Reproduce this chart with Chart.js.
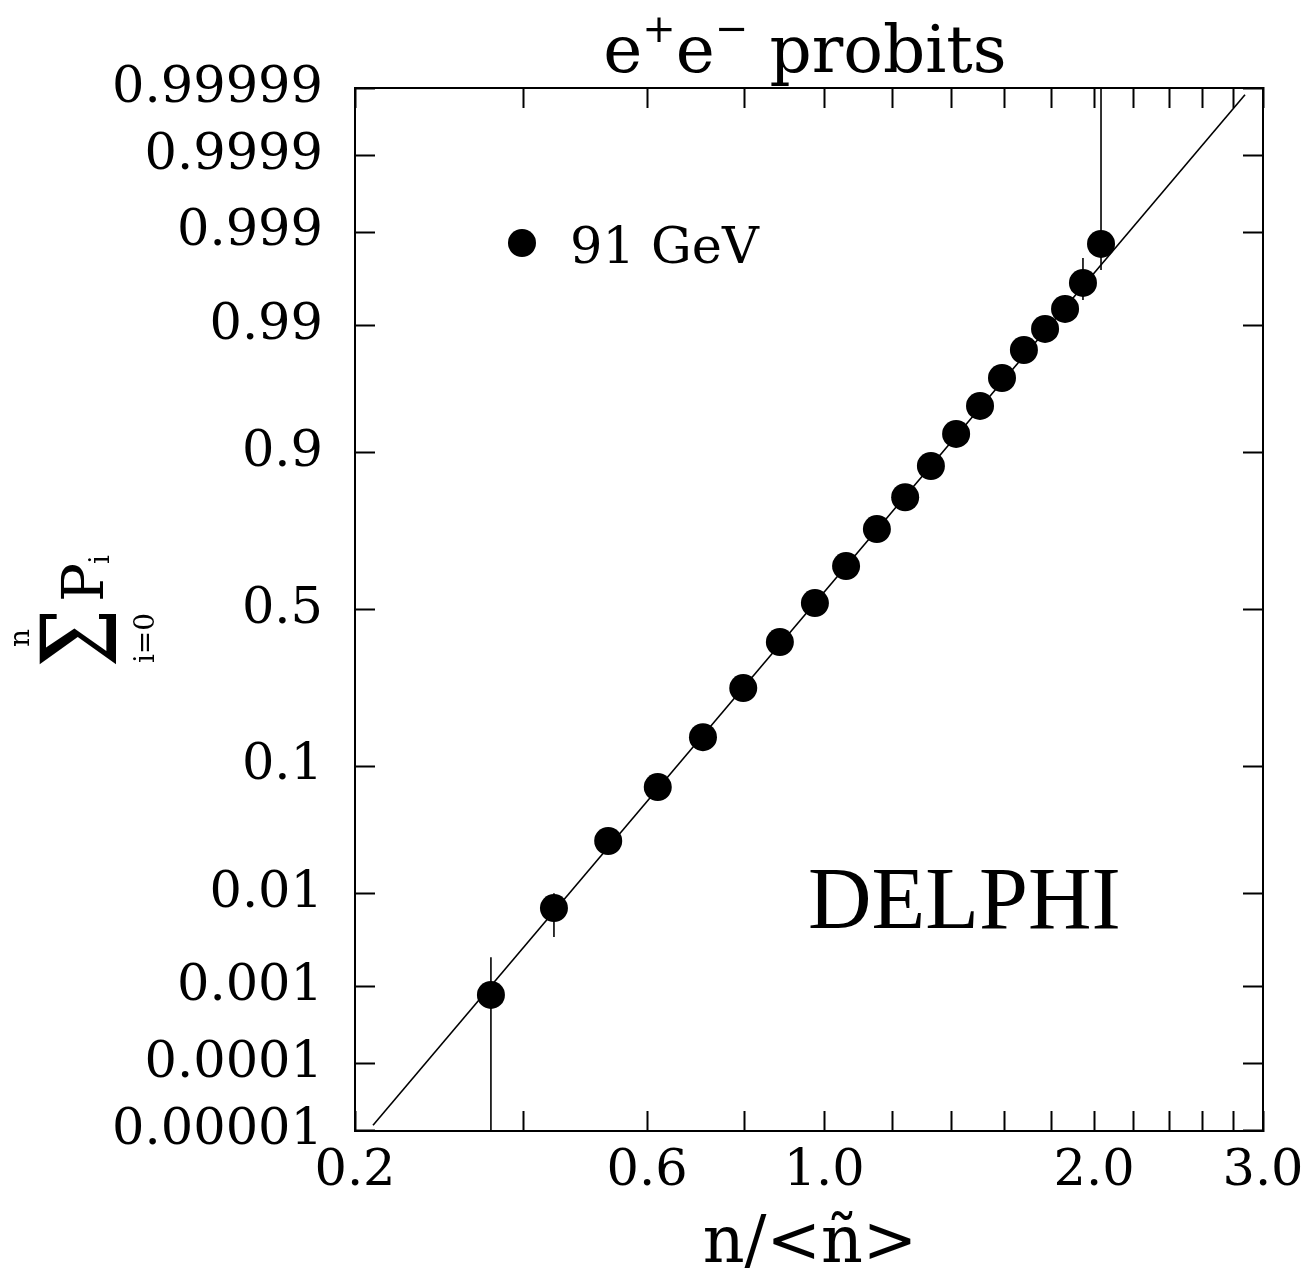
<!DOCTYPE html>
<html>
<head>
<meta charset="utf-8">
<script src="https://cdn.jsdelivr.net/npm/chart.js@4.4.0/dist/chart.umd.min.js"></script>
<style>
    html, body { margin: 0; padding: 0; background: #fff; }
</style>
</head>
<body>
<canvas id="probits" width="1312" height="1276"></canvas>
<script>
(function () {
    'use strict';

    /* ── Data ── */
    var ratio = [0.355, 0.444, 0.531, 0.620, 0.710, 0.798, 0.885, 0.975, 1.061, 1.152,
                 1.241, 1.327, 1.416, 1.505, 1.591, 1.681, 1.772, 1.862, 1.946, 2.034];
    var cumProb = [0.00080, 0.00725, 0.0290, 0.0730, 0.148, 0.260, 0.395, 0.521, 0.639, 0.745,
                   0.821, 0.880, 0.9247, 0.9522, 0.9710, 0.9832, 0.9892, 0.99307, 0.99625, 0.99862];
    var errLow  = [1e-7, 0.00366, null, null, null, null, null, null, null, null,
                   null, null, null, null, null, null, null, 0.9907, 0.99437, 0.99728];
    var errHigh = [0.00221, 0.0101, null, null, null, null, null, null, null, null,
                   null, null, null, null, null, null, null, 0.9950, 0.99800, 0.9999999];

    var fitX = [0.218, 2.875];
    var fitProb = [0.0000121, 0.9999875];

    var xTickValues = [0.2, 0.4, 0.6, 0.8, 1.0, 1.2, 1.4, 1.6, 1.8, 2.0, 2.2, 2.4, 2.6, 2.8, 3.0];
    var xTickLabels = ['0.2', '', '0.6', '', '1.0', '', '', '', '', '2.0', '', '', '', '', '3.0'];
    var yTickValues = [0.00001, 0.0001, 0.001, 0.01, 0.1, 0.5, 0.9, 0.99, 0.999, 0.9999, 0.99999];
    var yTickLabels = ['0.00001', '0.0001', '0.001', '0.01', '0.1', '0.5', '0.9', '0.99', '0.999', '0.9999', '0.99999'];

    /* ── Axis transforms: shifted log in x, probit in y ── */
    var SHIFT = 0.25;
    function xT(v) { return Math.log(v + SHIFT); }

    function norminv(p) {
        var a = [-3.969683028665376e+01, 2.209460984245205e+02, -2.759285104469687e+02,
                 1.383577518672690e+02, -3.066479806614716e+01, 2.506628277459239e+00];
        var b = [-5.447609879822406e+01, 1.615858368580409e+02, -1.556989798598866e+02,
                 6.680131188771972e+01, -1.328068155288572e+01];
        var c = [-7.784894002430293e-03, -3.223964580411365e-01, -2.400758277161838e+00,
                 -2.549732539343734e+00, 4.374664141464968e+00, 2.938163982698783e+00];
        var d = [7.784695709041462e-03, 3.224671290700398e-01, 2.445134137142996e+00,
                 3.754408661907416e+00];
        var pl = 0.02425, q, r;
        if (p < pl) {
            q = Math.sqrt(-2 * Math.log(p));
            return (((((c[0] * q + c[1]) * q + c[2]) * q + c[3]) * q + c[4]) * q + c[5]) /
                   ((((d[0] * q + d[1]) * q + d[2]) * q + d[3]) * q + 1);
        }
        if (p > 1 - pl) {
            q = Math.sqrt(-2 * Math.log(1 - p));
            return -(((((c[0] * q + c[1]) * q + c[2]) * q + c[3]) * q + c[4]) * q + c[5]) /
                    ((((d[0] * q + d[1]) * q + d[2]) * q + d[3]) * q + 1);
        }
        q = p - 0.5; r = q * q;
        return (((((a[0] * r + a[1]) * r + a[2]) * r + a[3]) * r + a[4]) * r + a[5]) * q /
               (((((b[0] * r + b[1]) * r + b[2]) * r + b[3]) * r + b[4]) * r + 1);
    }

    var X_MIN = xT(0.2), X_MAX = xT(3.0);
    var Y_MIN = -4.27, Y_MAX = 4.27;
    var serif = "'DejaVu Serif', serif";

    var points = ratio.map(function (v, i) { return { x: xT(v), y: norminv(cumProb[i]) }; });
    var fitLine = fitX.map(function (v, i) { return { x: xT(v), y: norminv(fitProb[i]) }; });

    function setXTicks(scale) {
        scale.ticks = xTickValues.map(function (v) { return { value: xT(v) }; });
    }
    function setYTicks(scale) {
        scale.ticks = yTickValues.map(function (v) { return { value: norminv(v) }; });
    }
    function noOverflow(scale) {
        scale.paddingLeft = 0; scale.paddingRight = 0;
        scale.paddingTop = 0; scale.paddingBottom = 0;
    }

    var frameGrid = { drawOnChartArea: false, tickLength: -20, tickWidth: 2, tickColor: '#000' };
    var frameBorder = { color: '#000', width: 2 };

    /* ── Error bars, labels and annotations ── */
    var annotations = {
        id: 'annotations',
        beforeDatasetsDraw: function (chart) {
            var ctx = chart.ctx, xs = chart.scales.x, ys = chart.scales.y, area = chart.chartArea;
            ctx.save();
            ctx.beginPath();
            ctx.rect(area.left, area.top, area.right - area.left, area.bottom - area.top);
            ctx.clip();
            ctx.strokeStyle = '#000';
            ctx.lineWidth = 1.6;
            ratio.forEach(function (v, i) {
                if (errLow[i] === null) { return; }
                var px = xs.getPixelForValue(xT(v));
                ctx.beginPath();
                ctx.moveTo(px, ys.getPixelForValue(norminv(errLow[i])));
                ctx.lineTo(px, ys.getPixelForValue(norminv(errHigh[i])));
                ctx.stroke();
            });
            ctx.restore();
        },
        afterDraw: function (chart) {
            var ctx = chart.ctx, area = chart.chartArea;
            ctx.save();
            ctx.fillStyle = '#000';
            ctx.textBaseline = 'alphabetic';

            /* title: e+e- probits */
            var big = '66px ' + serif, sup = '40px ' + serif;
            var parts = [['e', big, 0], ['+', sup, -30], ['e', big, 0], ['\u2212', sup, -30], [' probits', big, 0]];
            var total = 0;
            parts.forEach(function (p) { ctx.font = p[1]; total += ctx.measureText(p[0]).width; });
            var tx = 805 - total / 2;
            parts.forEach(function (p) {
                ctx.font = p[1];
                ctx.fillText(p[0], tx, 72 + p[2]);
                tx += ctx.measureText(p[0]).width;
            });

            /* legend */
            ctx.beginPath();
            ctx.arc(area.left + 167, area.top + 155, 14, 0, Math.PI * 2);
            ctx.fill();
            ctx.font = '51px ' + serif;
            ctx.textAlign = 'left';
            ctx.fillText('91 GeV', area.left + 215, area.top + 175);

            /* experiment tag */
            ctx.font = "88px 'Liberation Serif', serif";
            ctx.fillText('DELPHI', 808, 928);

            /* x axis title */
            ctx.font = '65px ' + serif;
            ctx.textAlign = 'center';
            ctx.fillText('n/<\u00f1>', 810, 1262);

            /* y axis title: sum_{i=0}^{n} P_i, rotated */
            ctx.translate(86, 638);
            ctx.rotate(-Math.PI / 2);
            ctx.textBaseline = 'middle';
            ctx.save();
            ctx.scale(1, 1.25);
            ctx.font = '84px ' + serif;
            ctx.fillText('\u03a3', 0, 2);
            ctx.restore();
            ctx.font = '28px ' + serif;
            ctx.fillText('n', 0, -64);
            ctx.fillText('i=0', 0, 61);
            ctx.font = '58px ' + serif;
            ctx.textAlign = 'left';
            ctx.fillText('P', 36, 2);
            ctx.font = '28px ' + serif;
            ctx.fillText('i', 74, 16);
            ctx.restore();
        }
    };

    new Chart(document.getElementById('probits'), {
        type: 'scatter',
        data: {
            datasets: [
                {
                    label: 'fit',
                    data: fitLine,
                    showLine: true,
                    borderColor: '#000',
                    borderWidth: 1.6,
                    pointRadius: 0,
                    order: 2
                },
                {
                    label: '91 GeV',
                    data: points,
                    pointRadius: 14,
                    pointBackgroundColor: '#000',
                    pointBorderColor: '#000',
                    pointBorderWidth: 0,
                    order: 1
                }
            ]
        },
        options: {
            responsive: false,
            animation: false,
            layout: { padding: { top: 88, right: 49, bottom: 0, left: 0 } },
            plugins: {
                legend: { display: false },
                tooltip: { enabled: false }
            },
            scales: {
                x: {
                    type: 'linear', position: 'bottom', min: X_MIN, max: X_MAX,
                    afterBuildTicks: setXTicks,
                    afterFit: function (s) { s.height = 145; noOverflow(s); },
                    ticks: {
                        autoSkip: false, maxRotation: 0, padding: 30, color: '#000',
                        font: { family: serif, size: 51 },
                        callback: function (v, i) { return xTickLabels[i]; }
                    },
                    grid: frameGrid,
                    border: frameBorder
                },
                xTop: {
                    type: 'linear', position: 'top', min: X_MIN, max: X_MAX,
                    afterBuildTicks: setXTicks,
                    afterFit: function (s) { s.height = 0; noOverflow(s); },
                    ticks: { display: false },
                    grid: frameGrid,
                    border: frameBorder
                },
                y: {
                    type: 'linear', position: 'left', min: Y_MIN, max: Y_MAX,
                    afterBuildTicks: setYTicks,
                    afterFit: function (s) { s.width = 355; noOverflow(s); },
                    ticks: {
                        autoSkip: false, padding: 52, color: '#000',
                        font: { family: serif, size: 51 },
                        callback: function (v, i) { return yTickLabels[i]; }
                    },
                    grid: frameGrid,
                    border: frameBorder
                },
                yRight: {
                    type: 'linear', position: 'right', min: Y_MIN, max: Y_MAX,
                    afterBuildTicks: setYTicks,
                    afterFit: function (s) { s.width = 0; noOverflow(s); },
                    ticks: { display: false },
                    grid: frameGrid,
                    border: frameBorder
                }
            }
        },
        plugins: [annotations]
    });
})();
</script>
</body>
</html>
